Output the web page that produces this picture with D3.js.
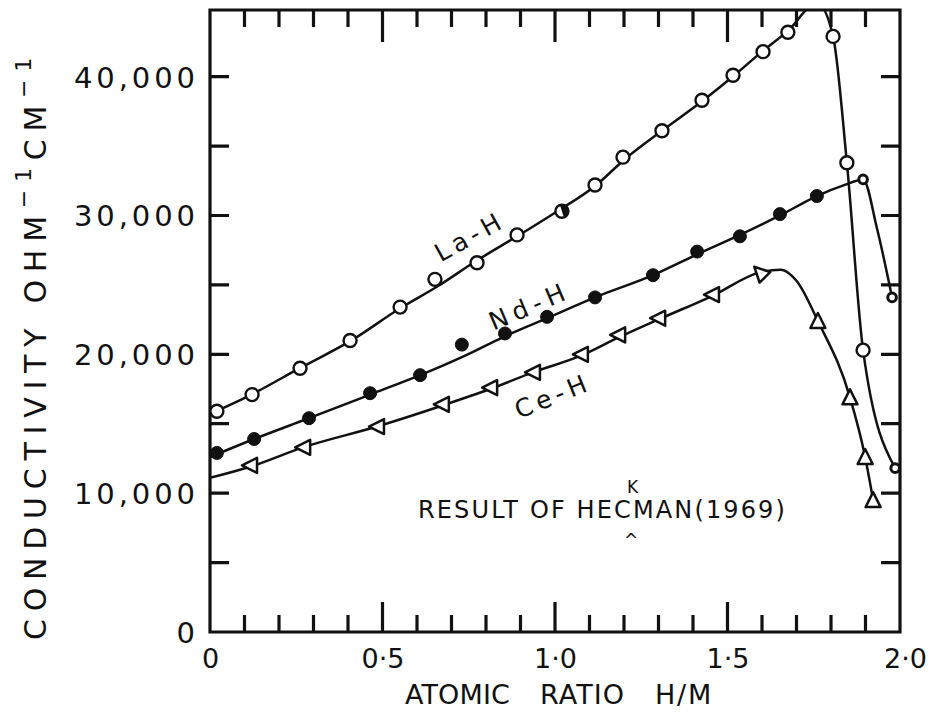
<!DOCTYPE html>
<html><head><meta charset="utf-8">
<script src="https://cdn.jsdelivr.net/npm/d3@7"></script>
<style>
body{margin:0;background:#fff}
svg{display:block}
text{font-family:"DejaVu Sans",sans-serif;fill:#111}
</style>
</head><body>
<svg id="chart" width="930" height="718" xmlns="http://www.w3.org/2000/svg"></svg>
<script>
// ---------- data ----------
const xMinorTicks = d3.range(1, 20).map(i => i / 10);
const xMajorTicks = [0.5, 1.0, 1.5];
const xLabelValues = [0, 0.5, 1.0, 1.5, 2.0];
const xLabelTexts = ["0", "0·5", "1·0", "1·5", "2·0"];
const yTickValues = [5000, 10000, 15000, 20000, 25000, 30000, 35000, 40000];
const yLabelValues = [0, 10000, 20000, 30000, 40000];

// La-H measured points (open circles)
const laX = [0.020,0.122,0.261,0.406,0.551,0.652,0.774,0.890,1.020,1.116,1.197,1.310,1.426,1.516,1.603,1.675,1.806,1.846,1.893,1.986];
const laY = [15900,17100,19000,21000,23400,25400,26600,28600,30300,32200,34200,36100,38300,40100,41800,43200,42900,33800,20300,11800];
// La-H drawn curve
const laCurveX = [0,0.12,0.26,0.41,0.55,0.66,0.77,0.89,1.00,1.12,1.20,1.31,1.43,1.52,1.60,1.675,1.76,1.806,1.846,1.893,1.986];
const laCurveY = [15700,17100,19000,21000,23300,24900,26700,28500,30200,32200,34000,36100,38300,40100,41800,43300,45300,42900,33800,20300,11800];

// Nd-H measured points (filled circles)
const ndX = [0.020,0.128,0.287,0.464,0.609,0.730,0.855,0.977,1.116,1.284,1.412,1.536,1.652,1.759,1.893,1.977];
const ndY = [12900,13900,15400,17200,18500,20700,21500,22700,24100,25700,27400,28500,30100,31400,32600,24100];
const ndCurveX = [0,0.128,0.287,0.464,0.609,0.73,0.855,0.977,1.116,1.284,1.412,1.536,1.652,1.759,1.84,1.893,1.933,1.977];
const ndCurveY = [12600,13900,15400,17100,18500,19800,21300,22600,24100,25700,27200,28600,30000,31400,32200,32600,29100,24100];

// Ce-H measured points (triangles)
const ceX = [0.116,0.270,0.484,0.672,0.812,0.936,1.075,1.183,1.299,1.455,1.594,1.762,1.855,1.899,1.922];
const ceY = [12000,13300,14800,16400,17600,18700,20000,21400,22600,24300,25900,22400,16900,12600,9500];
const ceCurveX = [0,0.116,0.27,0.484,0.672,0.812,0.936,1.075,1.183,1.299,1.455,1.594,1.655,1.70,1.762,1.855,1.899,1.922];
const ceCurveY = [11100,11900,13300,14800,16300,17500,18700,19900,21200,22500,24200,25900,26100,25300,22400,16900,12600,9500];

// ---------- layout ----------
const svg = d3.select("#chart");
const L = 210, R = 900, T = 10, B = 632;
const x = d3.scaleLinear().domain([0, 2]).range([L, R]);
const y = d3.scaleLinear().domain([0, 44800]).range([B, T]);
const INK = "#111";

function fit(sel, target) {
  const n = sel.node();
  const len = n.getComputedTextLength();
  const chars = n.textContent.length;
  const ls = (target - len) / chars;
  sel.attr("letter-spacing", ls);
  return ls;
}

svg.append("defs").append("clipPath").attr("id", "plot")
  .append("rect").attr("x", L).attr("y", T).attr("width", R - L).attr("height", B - T);

// ---------- frame + ticks in one path ----------
let frameD = `M${L},${T}H${R}V${B}H${L}Z`;
xMinorTicks.forEach(v => {
  const major = xMajorTicks.some(m => Math.abs(m - v) < 1e-9);
  const px = x(v).toFixed(1);
  frameD += ` M${px},${B}V${B - (major ? 30 : 17)}`;
  frameD += ` M${px},${T}V${T + (major ? 32 : 17)}`;
});
yTickValues.forEach(v => {
  const py = y(v).toFixed(1);
  frameD += ` M${L},${py}H${L + 19}`;
  frameD += ` M${R},${py}H${R - 19}`;
});
svg.append("path").attr("d", frameD)
  .attr("fill", "none").attr("stroke", INK).attr("stroke-width", 3.2)
  .attr("stroke-linejoin", "miter");

// y tick labels
const yl = svg.append("g").attr("transform", `translate(${L},0)`)
  .call(d3.axisLeft(y).tickValues(yLabelValues).tickSize(0).tickPadding(15).tickFormat(d3.format(",")));
yl.select("path.domain").remove();
yl.selectAll("line").remove();
yl.selectAll("text").attr("font-size", 29).attr("fill", INK).attr("font-family", '"DejaVu Sans",sans-serif')
  .attr("dy", "0.36em");
{
  const t40 = yl.selectAll("text").filter(d => d === 40000);
  const ls = fit(t40, 125);
  yl.selectAll("text").attr("letter-spacing", ls).attr("dx", ls);
}

// x tick labels
const xl = svg.append("g").attr("transform", `translate(0,${B})`)
  .call(d3.axisBottom(x).tickValues(xLabelValues).tickSize(0).tickPadding(17)
    .tickFormat((d, i) => xLabelTexts[i]));
xl.select("path.domain").remove();
xl.selectAll("line").remove();
xl.selectAll("text").attr("font-size", 27).attr("fill", INK).attr("font-family", '"DejaVu Sans",sans-serif')
  .attr("dx", d => d === 2 ? 5 : 0);

// axis titles
const xTitleWords = [["ATOMIC", 405, 105], ["RATIO", 540, 85], ["H/M", 655, 58]];
xTitleWords.forEach(([w, x0, wd]) => {
  const t = svg.append("text").attr("x", x0).attr("y", 704).attr("font-size", 27).text(w);
  fit(t, wd);
});

const yTitle = svg.append("text")
  .attr("transform", "translate(46,640) rotate(-90)")
  .attr("font-size", 30);
yTitle.append("tspan").text("CONDUCTIVITY OHM");
yTitle.append("tspan").attr("dy", -15).attr("font-size", 22).text("−1");
yTitle.append("tspan").attr("dy", 15).text("CM");
yTitle.append("tspan").attr("dy", -15).attr("font-size", 22).text("−1");
fit(yTitle, 590);

// ---------- curves ----------
const line = d3.line().x(d => x(d[0])).y(d => y(d[1])).curve(d3.curveMonotoneX);
const plot = svg.append("g").attr("clip-path", "url(#plot)");
[[laCurveX, laCurveY], [ndCurveX, ndCurveY], [ceCurveX, ceCurveY]].forEach(([xs, ys]) => {
  plot.append("path")
    .datum(xs.map((v, i) => [v, ys[i]]))
    .attr("d", line)
    .attr("fill", "none").attr("stroke", INK).attr("stroke-width", 2.5)
    .attr("stroke-linejoin", "round");
});

// ---------- markers ----------
const mk = svg.append("g");
laX.forEach((v, i) => {
  const small = i === laX.length - 1;
  mk.append("circle").attr("cx", x(v)).attr("cy", y(laY[i]))
    .attr("r", small ? 4.3 : 6.5)
    .attr("fill", "#fff").attr("stroke", INK).attr("stroke-width", small ? 3 : 2.4);
  if (i === 8) {
    mk.append("path")
      .attr("transform", `translate(${x(v)},${y(laY[i])})`)
      .attr("d", d3.arc()({innerRadius: 0, outerRadius: 6.5, startAngle: -0.3, endAngle: Math.PI - 0.3}))
      .attr("fill", INK);
  }
});
ndX.forEach((v, i) => {
  const small = i >= ndX.length - 2;
  mk.append("circle").attr("cx", x(v)).attr("cy", y(ndY[i]))
    .attr("r", small ? 4.3 : 6.5)
    .attr("fill", small ? "#fff" : INK).attr("stroke", INK).attr("stroke-width", small ? 3 : 1);
});
const peakIdx = ceY.indexOf(d3.max(ceY));
ceX.forEach((v, i) => {
  const rot = i < peakIdx ? 0 : (i === peakIdx ? 45 : 90);
  mk.append("path")
    .attr("transform", `translate(${x(v)},${y(ceY[i])}) rotate(${rot})`)
    .attr("d", "M-8,0L7,-7.5L7,7.5Z")
    .attr("fill", "#fff").attr("stroke", INK).attr("stroke-width", 2.5)
    .attr("stroke-linejoin", "round");
});

// ---------- annotations ----------
function curveLabel(txt, cx, cy, ang, wd) {
  const t = svg.append("text")
    .attr("transform", `translate(${cx},${cy}) rotate(${ang})`)
    .attr("text-anchor", "middle").attr("font-size", 25).text(txt);
  fit(t, wd);
}
curveLabel("La-H", 474, 244, -29, 76);
curveLabel("Nd-H", 533, 314, -23, 86);
curveLabel("Ce-H", 556, 404, -22, 80);

const res = svg.append("text").attr("x", 418).attr("y", 518).attr("font-size", 24)
  .text("RESULT OF HECMAN(1969)");
fit(res, 369);
{
  const n = res.node();
  const cEnd = n.getEndPositionOfChar(12).x;
  svg.append("text").attr("x", cEnd - 6).attr("y", 493).attr("font-size", 17).text("K");
  svg.append("text").attr("x", cEnd - 9).attr("y", 546).attr("font-size", 17).text("^");
}
</script>
</body></html>
